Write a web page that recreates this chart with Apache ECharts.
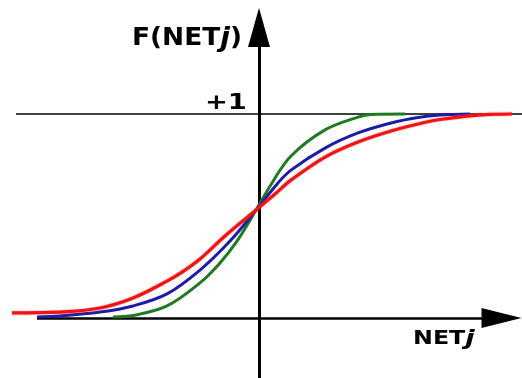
<!DOCTYPE html>
<html>
<head>
<meta charset="utf-8">
<title>F(NETj)</title>
<script src="https://cdn.jsdelivr.net/npm/echarts@6/dist/echarts.min.js"></script>
<style>
  html, body { margin: 0; padding: 0; background: #ffffff; }
  #chart { width: 522px; height: 378px; }
</style>
</head>
<body>
<div id="chart"></div>
<script>
// Activation curves F(NET) for three gains (NET on x, F on y, saturating at +1)
const netGreen = [-5.84, -5.04, -3.68, -2.36, -1.56, -0.88, -0.12, 0.52, 1.28, 2.64, 3.96, 4.48, 5.84];
const fGreen   = [0.005, 0.012, 0.059, 0.172, 0.27, 0.377, 0.529, 0.662, 0.794, 0.922, 0.985, 0.998, 1.0];

const netBlue = [-8.88, -7.96, -6.36, -5.04, -3.68, -2.36, -1.16, -0.12, 0.76, 1.28, 2.64, 3.96, 5.28, 6.36, 7.24, 8.44];
const fBlue   = [0.005, 0.01, 0.029, 0.059, 0.118, 0.235, 0.377, 0.529, 0.662, 0.725, 0.833, 0.907, 0.956, 0.983, 0.995, 1.0];

const netRed = [-9.88, -7.96, -6.36, -5.04, -3.68, -2.96, -2.36, -1.36, -0.12, 0.64, 1.28, 2.64, 3.96, 5.28, 6.36, 7.24, 8.32, 9.24, 10.12];
const fRed   = [0.025, 0.029, 0.049, 0.098, 0.181, 0.235, 0.289, 0.402, 0.529, 0.608, 0.676, 0.789, 0.863, 0.917, 0.951, 0.973, 0.99, 0.998, 1.0];

// Axis extents, arrow heads and the saturation level
const xAxisLine = [[-8.88, 0], [9.7, 0]];
const yAxisLine = [[0, -0.3], [0, 1.424]];
const xArrowHead = [9.7, 0];
const yArrowHead = [0, 1.424];
const saturationLine = [[-9.72, 1], [10.6, 1]];

const pairs = (xs, ys) => xs.map((x, i) => [x, ys[i]]);

const chart = echarts.init(document.getElementById('chart'), null, { renderer: 'canvas' });

const curve = (xs, ys, color, width, extra) => ({
  type: 'line',
  data: pairs(xs, ys),
  smooth: 0.35,
  showSymbol: false,
  clip: false,
  silent: true,
  lineStyle: Object.assign({ color: color, width: width }, extra || {})
});

const axisLine = (coords, width) => ({
  type: 'lines',
  coordinateSystem: 'cartesian2d',
  silent: true,
  symbol: ['none', 'none'],
  lineStyle: { color: '#000000', width: width, opacity: 1 },
  data: [{ coords: coords }]
});

const arrowHead = (pos, size, rotate) => ({
  type: 'scatter',
  data: [pos],
  symbol: 'triangle',
  symbolSize: size,
  symbolRotate: rotate,
  clip: false,
  silent: true,
  itemStyle: { color: '#000000', opacity: 1 }
});

chart.setOption({
  animation: false,
  backgroundColor: '#ffffff',
  grid: { left: 0, right: 0, top: 0, bottom: 0 },
  xAxis: { type: 'value', min: -10.36, max: 10.52, show: false },
  yAxis: { type: 'value', min: -0.2941, max: 1.5588, show: false },
  series: [
    axisLine(saturationLine, 1.6),
    curve(netGreen, fGreen, '#1f7a22', 3),
    curve(netBlue, fBlue, '#1c1ca6', 3),
    curve(netRed, fRed, '#f01414', 3.2, { shadowBlur: 2, shadowColor: 'rgba(255,60,60,0.6)' }),
    axisLine(xAxisLine, 2.6),
    axisLine(yAxisLine, 3),
    arrowHead(xArrowHead, [20, 40], -90),
    arrowHead(yArrowHead, [22, 39], 0)
  ],
  graphic: [
    {
      type: 'text',
      x: 132,
      y: 26,
      scaleX: 1.1,
      style: {
        text: '{a|F(NET}{j|j}{a|)}',
        verticalAlign: 'top',
        rich: {
          a: { fontFamily: 'DejaVu Sans', fontWeight: 'bold', fontSize: 24, fill: '#000000' },
          j: { fontFamily: 'DejaVu Sans', fontWeight: 'bold', fontStyle: 'italic', fontSize: 26, fill: '#000000' }
        }
      }
    },
    {
      type: 'text',
      x: 205,
      y: 93,
      scaleX: 1.3,
      style: { text: '+1', verticalAlign: 'top', fontFamily: 'DejaVu Sans', fontWeight: 'bold', fontSize: 21, fill: '#000000' }
    },
    {
      type: 'text',
      x: 413,
      y: 328,
      scaleX: 1.25,
      style: {
        text: '{a|NET}{j|j}',
        verticalAlign: 'top',
        rich: {
          a: { fontFamily: 'DejaVu Sans', fontWeight: 'bold', fontSize: 19, fill: '#000000' },
          j: { fontFamily: 'DejaVu Sans', fontWeight: 'bold', fontStyle: 'italic', fontSize: 22, fill: '#000000' }
        }
      }
    }
  ]
});
</script>
</body>
</html>
